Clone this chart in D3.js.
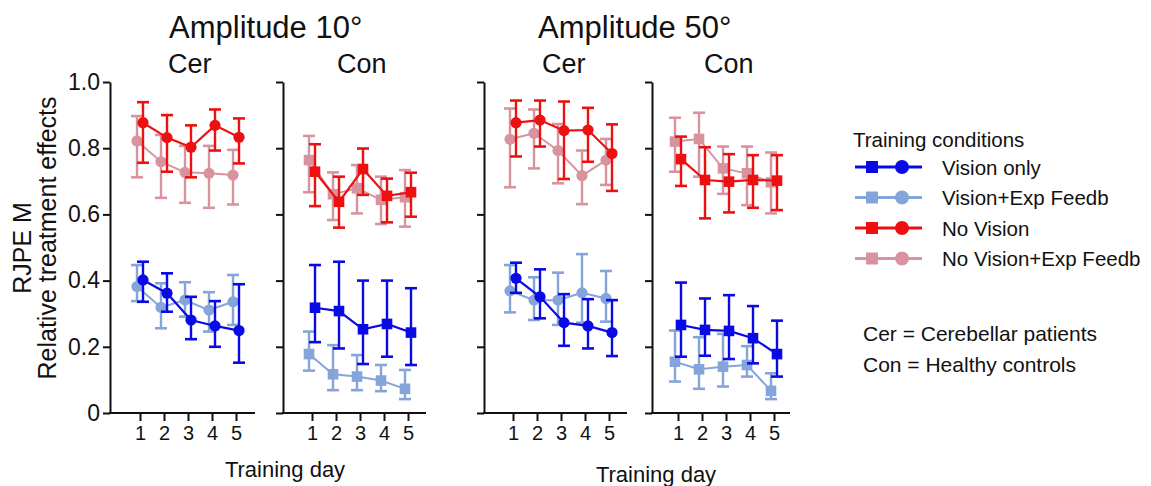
<!DOCTYPE html>
<html>
<head>
<meta charset="utf-8">
<script src="https://cdn.jsdelivr.net/npm/d3@7"></script>
<style>
  html, body { margin: 0; padding: 0; background: #fff; }
  svg { display: block; font-family: "Liberation Sans", Arial, sans-serif; }
</style>
</head>
<body>
<svg id="chart" width="1151" height="486"></svg>
<script>
// ---------- DATA ----------
const days = [1, 2, 3, 4, 5];
const dayLabels = ["1", "2", "3", "4", "5"];
const yTickValues = [0, 0.2, 0.4, 0.6, 0.8, 1.0];
const yTickLabels = ["0", "0.2", "0.4", "0.6", "0.8", "1.0"];
const amplitudes = ["Amplitude 10°", "Amplitude 50°"];
const groups = ["Cer", "Con"];
const seriesNames = ["Vision only", "Vision+Exp Feedb", "No Vision", "No Vision+Exp Feedb"];
const notes = ["Cer = Cerebellar patients", "Con = Healthy controls"];

// each entry per day: [mean, lower error, upper error]
const cer10_vision      = [[0.402,0.336,0.457],[0.362,0.306,0.422],[0.281,0.223,0.351],[0.263,0.200,0.338],[0.249,0.152,0.389]];
const cer10_visionExp   = [[0.382,0.338,0.447],[0.319,0.256,0.392],[0.341,0.291,0.395],[0.311,0.246,0.365],[0.336,0.266,0.417]];
const cer10_noVision    = [[0.877,0.756,0.939],[0.832,0.729,0.900],[0.803,0.712,0.869],[0.869,0.793,0.917],[0.833,0.754,0.890]];
const cer10_noVisionExp = [[0.822,0.712,0.897],[0.759,0.650,0.840],[0.727,0.635,0.807],[0.724,0.620,0.807],[0.719,0.630,0.795]];

const con10_vision      = [[0.318,0.214,0.447],[0.308,0.195,0.457],[0.253,0.148,0.400],[0.269,0.170,0.400],[0.243,0.145,0.377]];
const con10_visionExp   = [[0.178,0.128,0.246],[0.117,0.069,0.205],[0.110,0.069,0.175],[0.098,0.066,0.145],[0.073,0.042,0.130]];
const con10_noVision    = [[0.729,0.625,0.812],[0.638,0.560,0.714],[0.737,0.659,0.799],[0.656,0.576,0.708],[0.667,0.593,0.726]];
const con10_noVisionExp = [[0.764,0.667,0.837],[0.661,0.583,0.727],[0.679,0.603,0.749],[0.644,0.571,0.714],[0.652,0.563,0.734]];

const cer50_vision      = [[0.407,0.363,0.454],[0.351,0.286,0.434],[0.273,0.203,0.359],[0.263,0.195,0.344],[0.243,0.172,0.341]];
const cer50_visionExp   = [[0.369,0.304,0.447],[0.341,0.281,0.410],[0.341,0.266,0.424],[0.363,0.273,0.480],[0.346,0.276,0.429]];
const cer50_noVision    = [[0.877,0.775,0.944],[0.885,0.805,0.944],[0.853,0.707,0.941],[0.855,0.759,0.922],[0.784,0.671,0.872]];
const cer50_noVisionExp = [[0.827,0.682,0.920],[0.845,0.739,0.917],[0.793,0.694,0.873],[0.717,0.631,0.793],[0.764,0.689,0.828]];

const con50_vision      = [[0.266,0.170,0.394],[0.251,0.173,0.346],[0.248,0.163,0.356],[0.226,0.150,0.323],[0.178,0.110,0.279]];
const con50_visionExp   = [[0.155,0.095,0.249],[0.132,0.073,0.229],[0.140,0.080,0.239],[0.145,0.110,0.202],[0.067,0.042,0.120]];
const con50_noVision    = [[0.767,0.686,0.835],[0.704,0.588,0.803],[0.699,0.606,0.782],[0.704,0.620,0.779],[0.702,0.613,0.779]];
const con50_noVisionExp = [[0.820,0.729,0.892],[0.828,0.714,0.907],[0.739,0.662,0.805],[0.724,0.628,0.805],[0.697,0.603,0.787]];

// ---------- STYLE / LAYOUT ----------
const colors = ["#0a0ae6", "#85a5da", "#ee1010", "#d9939f"];
const lineW  = [2.2, 2, 2.2, 2];
const ink = "#111";

const panels = [
  { amp: 0, group: 0, shape: "circle", data: [cer10_vision, cer10_visionExp, cer10_noVision, cer10_noVisionExp], axisX: 110, tick1: 140, axisEnd: 255, labels: true },
  { amp: 0, group: 1, shape: "square", data: [con10_vision, con10_visionExp, con10_noVision, con10_noVisionExp], axisX: 283, tick1: 312, axisEnd: 426, labels: false },
  { amp: 1, group: 0, shape: "circle", data: [cer50_vision, cer50_visionExp, cer50_noVision, cer50_noVisionExp], axisX: 484, tick1: 513, axisEnd: 627, labels: false },
  { amp: 1, group: 1, shape: "square", data: [con50_vision, con50_visionExp, con50_noVision, con50_noVisionExp], axisX: 652, tick1: 678, axisEnd: 790, labels: false }
];

const svg = d3.select("#chart");
const y = d3.scaleLinear().domain([0, 1]).range([413, 82]);

// draw order: light series first, then dark
const drawOrder = [1, 3, 0, 2];
const offsets = [3, -3, 3, -3];

panels.forEach(p => {
  const x = d3.scaleLinear().domain([1, 5]).range([p.tick1, p.tick1 + 96]);
  const g = svg.append("g");

  // y axis
  const yAxis = d3.axisLeft(y).tickValues(yTickValues)
    .tickFormat((d, i) => p.labels ? yTickLabels[i] : "")
    .tickSize(7).tickSizeOuter(0).tickPadding(3);
  const ya = g.append("g").attr("transform", `translate(${p.axisX},0)`).call(yAxis);
  ya.selectAll("path,line").attr("stroke", ink).attr("stroke-width", 2);
  ya.selectAll("text").attr("font-size", 23).attr("fill", ink)
    .attr("font-family", '"Liberation Sans", Arial, sans-serif');

  // x axis
  const xAxis = d3.axisBottom(x).tickValues(days).tickFormat((d, i) => dayLabels[i])
    .tickSize(8).tickSizeOuter(0).tickPadding(5);
  const xa = g.append("g").attr("transform", `translate(0,${y(0)})`).call(xAxis);
  xa.select(".domain").remove();
  xa.append("line").attr("x1", p.axisX - 1).attr("x2", p.axisEnd).attr("y1", 0).attr("y2", 0)
    .attr("stroke", ink).attr("stroke-width", 2);
  xa.selectAll(".tick line").attr("stroke", ink).attr("stroke-width", 2);
  xa.selectAll("text").attr("font-size", 20).attr("fill", ink)
    .attr("font-family", '"Liberation Sans", Arial, sans-serif');

  drawOrder.forEach(si => {
    const ser = p.data[si];
    const col = colors[si];
    const off = offsets[si];
    const sg = g.append("g");
    const line = d3.line().x((d, i) => x(days[i]) + off).y(d => y(d[0]));
    sg.append("path").datum(ser).attr("d", line).attr("fill", "none")
      .attr("stroke", col).attr("stroke-width", lineW[si]);
    // error bars
    const eb = sg.selectAll(".eb").data(ser).join("g");
    eb.append("line")
      .attr("x1", (d, i) => x(days[i]) + off).attr("x2", (d, i) => x(days[i]) + off)
      .attr("y1", d => y(d[1])).attr("y2", d => y(d[2]))
      .attr("stroke", col).attr("stroke-width", 2.4);
    [1, 2].forEach(k => {
      eb.append("line")
        .attr("x1", (d, i) => x(days[i]) + off - 6).attr("x2", (d, i) => x(days[i]) + off + 6)
        .attr("y1", d => y(d[k])).attr("y2", d => y(d[k]))
        .attr("stroke", col).attr("stroke-width", 2.6);
    });
    // markers
    if (p.shape === "circle") {
      sg.selectAll(".m").data(ser).join("circle")
        .attr("cx", (d, i) => x(days[i]) + off).attr("cy", d => y(d[0]))
        .attr("r", 5.6).attr("fill", col);
    } else {
      sg.selectAll(".m").data(ser).join("rect")
        .attr("x", (d, i) => x(days[i]) + off - 5.3).attr("y", d => y(d[0]) - 5.3)
        .attr("width", 10.6).attr("height", 10.6).attr("fill", col);
    }
  });
});

// titles
const txt = (x, yy, s, size, anchor = "start") =>
  svg.append("text").attr("x", x).attr("y", yy).attr("font-size", size)
    .attr("fill", ink).attr("text-anchor", anchor).text(s);

txt(169, 38, amplitudes[0], 31);
txt(538, 38, amplitudes[1], 31);
txt(168, 73, groups[0], 27);
txt(337, 73, groups[1], 27);
txt(542, 73, groups[0], 27);
txt(704, 73, groups[1], 27);

// axis titles
txt(285, 477, "Training day", 22, "middle");
txt(656, 482, "Training day", 22, "middle");
svg.append("text").attr("transform", "translate(31,248) rotate(-90)")
  .attr("text-anchor", "middle").attr("font-size", 25).attr("fill", ink).text("RJPE M");
svg.append("text").attr("transform", "translate(56,238) rotate(-90)")
  .attr("text-anchor", "middle").attr("font-size", 25).attr("fill", ink).text("Relative treatment effects");

// legend
txt(853, 147, "Training conditions", 20.5);
seriesNames.forEach((name, i) => {
  const ly = 167 + 30.5 * i;
  const lg = svg.append("g");
  lg.append("line").attr("x1", 855).attr("x2", 922).attr("y1", ly).attr("y2", ly)
    .attr("stroke", colors[i]).attr("stroke-width", 3);
  lg.append("rect").attr("x", 866).attr("y", ly - 6).attr("width", 12).attr("height", 12).attr("fill", colors[i]);
  lg.append("circle").attr("cx", 902).attr("cy", ly).attr("r", 7).attr("fill", colors[i]);
  txt(942, ly + 7.5, name, 20.5);
});

// notes
txt(863, 341, notes[0], 21);
txt(863, 372, notes[1], 21);
</script>
</body>
</html>
